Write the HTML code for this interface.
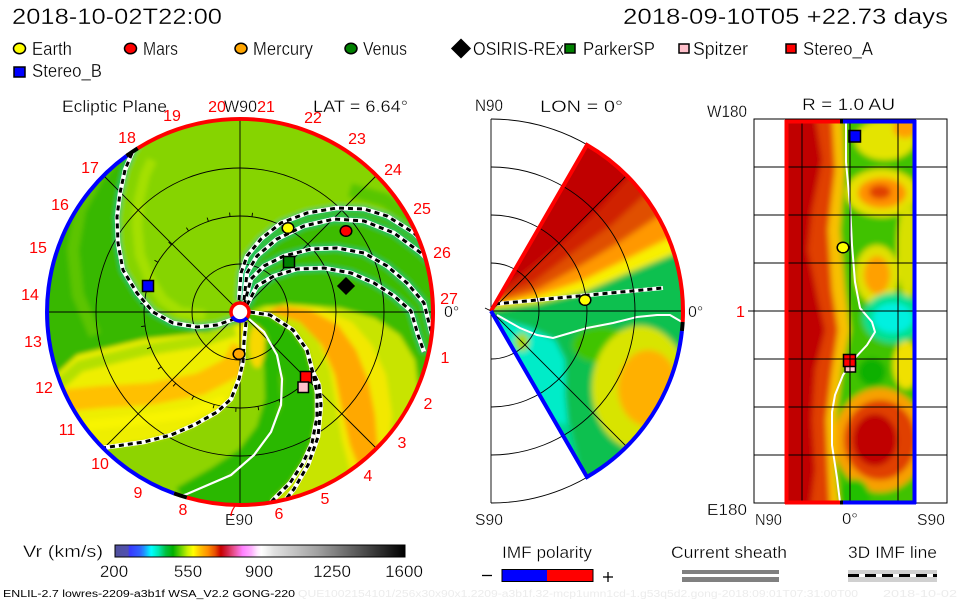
<!DOCTYPE html>
<html><head><meta charset="utf-8">
<style>
html,body{margin:0;padding:0;background:#fff;}
svg{display:block;}
text{font-family:"Liberation Sans",sans-serif;stroke:#fff;stroke-width:0.3px;}
text.r{stroke:none;}
</style></head>
<body>
<svg width="960" height="600" viewBox="0 0 960 600" xmlns="http://www.w3.org/2000/svg">
<defs>
  <clipPath id="cL"><circle cx="240" cy="312" r="193"/></clipPath>
  <clipPath id="cM"><path d="M491,311 L587,145 A192,192 0 0 1 587,477 Z"/></clipPath>
  <clipPath id="cR"><rect x="785" y="120" width="131" height="384"/></clipPath>
  <filter id="bl" x="-5%" y="-5%" width="110%" height="110%"><feGaussianBlur stdDeviation="2.5"/></filter>
  <filter id="bl3" x="-5%" y="-5%" width="110%" height="110%"><feGaussianBlur stdDeviation="3"/></filter>
  <linearGradient id="cb" x1="0" y1="0" x2="1" y2="0">
    <stop offset="0" stop-color="#50509c"/>
    <stop offset="0.045" stop-color="#5050b0"/>
    <stop offset="0.05" stop-color="#3838ff"/>
    <stop offset="0.085" stop-color="#3060ff"/>
    <stop offset="0.1" stop-color="#2090ff"/>
    <stop offset="0.125" stop-color="#00ffff"/>
    <stop offset="0.15" stop-color="#00e8b0"/>
    <stop offset="0.175" stop-color="#00c040"/>
    <stop offset="0.2" stop-color="#00b000"/>
    <stop offset="0.225" stop-color="#60d000"/>
    <stop offset="0.25" stop-color="#c8f000"/>
    <stop offset="0.27" stop-color="#ffff00"/>
    <stop offset="0.295" stop-color="#ffc000"/>
    <stop offset="0.32" stop-color="#ff9000"/>
    <stop offset="0.345" stop-color="#e85000"/>
    <stop offset="0.365" stop-color="#c80000"/>
    <stop offset="0.385" stop-color="#d02040"/>
    <stop offset="0.41" stop-color="#e85090"/>
    <stop offset="0.44" stop-color="#ff80ff"/>
    <stop offset="0.47" stop-color="#ffb0ff"/>
    <stop offset="0.49" stop-color="#ffe8ff"/>
    <stop offset="0.505" stop-color="#ffffff"/>
    <stop offset="0.55" stop-color="#e0e0e0"/>
    <stop offset="0.7" stop-color="#a0a0a0"/>
    <stop offset="0.85" stop-color="#505050"/>
    <stop offset="1" stop-color="#000000"/>
  </linearGradient>
</defs>

<!-- ===== Header ===== -->
<text x="12" y="24" font-size="22" textLength="210" lengthAdjust="spacingAndGlyphs">2018-10-02T22:00</text>
<text x="623" y="24" font-size="22" textLength="325" lengthAdjust="spacingAndGlyphs">2018-09-10T05 +22.73 days</text>

<!-- ===== Legend ===== -->
<g stroke="#000" stroke-width="1.5">
  <ellipse cx="19.5" cy="48.5" rx="6" ry="5.3" fill="#ffff00"/>
  <ellipse cx="130.5" cy="48.5" rx="6" ry="5.3" fill="#ff0000"/>
  <ellipse cx="241" cy="48.5" rx="6" ry="5.3" fill="#ffa500"/>
  <ellipse cx="351" cy="48.5" rx="6" ry="5.3" fill="#008000"/>
  <path d="M461,39.5 L470,48.5 L461,57.5 L452,48.5 Z" fill="#000"/>
  <rect x="565" y="44" width="10" height="9" fill="#008000"/>
  <rect x="679" y="44" width="10" height="9" fill="#ffc0cb"/>
  <rect x="786" y="44" width="10" height="9" fill="#ff0000"/>
  <rect x="14" y="67" width="11" height="10" fill="#0000ff"/>
</g>
<g font-size="18">
  <text x="32" y="55" textLength="40" lengthAdjust="spacingAndGlyphs">Earth</text>
  <text x="143" y="55" textLength="35" lengthAdjust="spacingAndGlyphs">Mars</text>
  <text x="253" y="55" textLength="60" lengthAdjust="spacingAndGlyphs">Mercury</text>
  <text x="363" y="55" textLength="44" lengthAdjust="spacingAndGlyphs">Venus</text>
  <text x="473" y="55" textLength="91" lengthAdjust="spacingAndGlyphs">OSIRIS-REx</text>
  <text x="583" y="55" textLength="72" lengthAdjust="spacingAndGlyphs">ParkerSP</text>
  <text x="693" y="55" textLength="55" lengthAdjust="spacingAndGlyphs">Spitzer</text>
  <text x="803" y="55" textLength="70" lengthAdjust="spacingAndGlyphs">Stereo_A</text>
  <text x="32" y="77" textLength="70" lengthAdjust="spacingAndGlyphs">Stereo_B</text>
</g>

<!-- ===== Panel titles ===== -->
<g font-size="17">
  <text x="62" y="112" textLength="105" lengthAdjust="spacingAndGlyphs">Ecliptic Plane</text>
  <text x="224" y="112" textLength="33" lengthAdjust="spacingAndGlyphs">W90</text>
  <text x="313" y="112" textLength="95" lengthAdjust="spacingAndGlyphs">LAT = 6.64°</text>
  <text x="475" y="111" textLength="28" lengthAdjust="spacingAndGlyphs">N90</text>
  <text x="540" y="112" textLength="83" lengthAdjust="spacingAndGlyphs">LON = 0°</text>
  <text x="802" y="110" textLength="93" lengthAdjust="spacingAndGlyphs">R = 1.0 AU</text>
  <text x="707" y="117" textLength="40" lengthAdjust="spacingAndGlyphs">W180</text>
</g>

<!-- ===== LEFT: Ecliptic plane ===== -->
<g clip-path="url(#cL)">
 <g filter="url(#bl)">
  <rect x="30" y="100" width="420" height="430" fill="#3cbc00"/>
  <polygon fill="#86d400" points="240,312 237,318 217,325 197,327 173,323 153,312 137,293 123,270 118,243 117,217 120,193 125,170 132,153 137,146 120,100 300,95 450,150 450,245 425,245 414,233 387,216 364,209 337,208 307,213 281,223 261,239 247,256 241,273 239,296"/>
  <polyline fill="none" stroke="#a4e000" stroke-width="10" points="205,315 180,312 163,300 150,280 140,255 137,225 139,200 145,175 152,160"/>
  <polyline fill="none" stroke="#62c800" stroke-width="12" points="300,120 340,135 380,160 410,190"/>
  <polyline fill="none" stroke="#58c600" stroke-width="14" points="350,190 385,200 415,222 440,240"/>
  <polygon fill="#38b800" points="237,318 217,325 197,327 173,323 153,312 137,293 123,270 118,243 117,217 120,193 125,170 132,153 137,146 120,100 20,150 20,420 51,379 77,355 144,339 211,332"/>
  <polyline fill="none" stroke="#5cc400" stroke-width="12" points="95,335 78,295 73,250 80,210 97,178 115,158"/>
  <polygon fill="#eeee00" points="246,322 211,332 144,339 77,355 51,379 20,420 20,480 107,447 144,442 171,435 194,425 217,412 231,399 239,379 243,362 244,342"/>
  <polyline fill="none" stroke="#b4e000" stroke-width="12" points="235,330 200,341 144,350 80,366 50,392"/>
  <polyline fill="none" stroke="#ffc000" stroke-width="22" points="242,348 231,368 200,384 150,394 100,397 50,402"/>
  <polyline fill="none" stroke="#f8f400" stroke-width="10" points="225,400 190,413 140,420 90,425 55,432"/>
  <polygon fill="#8ed400" points="246,322 244,342 243,362 239,379 231,399 217,412 194,425 171,435 144,442 107,447 90,470 150,530 187,494 231,475 254,455 271,432 281,405 282,379 277,355 264,332 249,319"/>
  <polyline fill="none" stroke="#2cb800" stroke-width="16" points="264,342 272,366 273,400 264,430 245,455 215,475 180,495"/>
  <ellipse cx="257" cy="346" rx="8" ry="22" fill="#f8d800"/>
  <polygon fill="#2cb800" points="249,319 264,332 277,355 282,379 281,405 271,432 254,455 231,475 187,494 200,530 290,520 273,500 290,483 303,463 312,443 317,417 317,393 313,373 307,350 293,330 270,315 250,312"/>
  <polygon fill="#c8e400" points="250,312 270,315 293,330 307,350 313,373 317,393 317,417 312,443 303,463 290,483 273,500 280,520 350,520 390,482 412,440 420,400 415,360 400,335 375,318 340,308 300,305 265,306"/>
  <polygon fill="#f2e800" points="262,310 296,318 318,340 330,370 336,405 342,440 350,470 366,480 388,455 392,415 386,375 372,345 352,322 320,308 285,304"/>
  <polygon fill="#ffa800" points="268,311 300,322 322,345 335,375 342,410 350,445 360,470 378,452 375,415 368,380 356,350 338,325 310,310 280,306"/>
  <g fill="none" stroke="#00c878" stroke-width="5">
   <polyline points="240,312 237,318 217,325 197,327 173,323 153,312 137,293 123,270 118,243 117,217 120,193 125,170 132,153 139,142"/>
   <polyline points="239,300 241,273 247,256 261,239 281,223 307,213 337,208 364,209 387,216 414,233 432,252"/>
   <polyline points="244,300 247,273 257,256 277,239 304,226 334,219 364,221 394,233 421,253 430,262"/>
   <polyline points="244,305 251,279 264,266 284,256 311,249 337,248 364,253 387,266 407,283 424,303 432,335"/>
   <polyline points="247,305 257,286 274,276 297,269 324,268 351,273 374,283 394,296 411,311 418,335 424,352"/>
  </g>
 </g>
 <g fill="none" stroke="#000" stroke-width="0.9">
  <circle cx="240" cy="312" r="48"/>
  <circle cx="240" cy="312" r="96"/>
  <circle cx="240" cy="312" r="144"/>
  <line x1="40" y1="312" x2="440" y2="312"/>
  <line x1="240" y1="110" x2="240" y2="510"/>
  <line x1="103.5" y1="175.5" x2="376.5" y2="448.5"/>
  <line x1="103.5" y1="448.5" x2="376.5" y2="175.5"/>
  <path d="M314,373.2 L317.1,375.7 M298,388.5 L300.5,391.7 M279,399.7 L280.7,403.4 M258,406.3 L258.7,410.2 M236,407.9 L235.8,411.9 M214.2,404.5 L213.1,408.3 M193.7,396.1 L191.8,399.6 M175.8,383.3 L173.1,386.3 M161.2,366.8 L157.9,369.1 M150.7,347.3 L147,348.8 M145,326 L141.1,326.6 M144.3,304 L140.4,303.6 M148.7,282.3 L144.9,281.1 M157.9,262.3 L154.5,260.2 M171.4,244.8 L168.6,242 M188.6,231 L186.4,227.6 M208.4,221.3 L207.1,217.6 M230,216.5 L229.6,212.6 M252,216.8 L252.5,212.8"/>
 </g>
 <polyline fill="none" stroke="#fff" stroke-width="2.2" points="249,319 264,332 277,355 282,379 281,405 271,432 254,455 231,475 187,494 172,499"/>
 <g fill="none" stroke="#fff" stroke-width="4.5" stroke-linejoin="round">
  <polyline points="240,312 237,318 217,325 197,327 173,323 153,312 137,293 123,270 118,243 117,217 120,193 125,170 132,153 139,142"/>
  <polyline points="246,322 244,342 243,362 239,379 231,399 217,412 194,425 171,435 144,442 102,448"/>
  <polyline points="250,312 270,315 293,330 307,350 313,373 317,393 317,417 312,443 303,463 290,483 273,500 266,508"/>
  <polyline points="311,368 319,385 321,405 318,437 308,465 294,489 279,508"/>
  <polyline points="239,300 241,273 247,256 261,239 281,223 307,213 337,208 364,209 387,216 414,233 432,252"/>
  <polyline points="244,300 247,273 257,256 277,239 304,226 334,219 364,221 394,233 421,253 430,262"/>
  <polyline points="244,305 251,279 264,266 284,256 311,249 337,248 364,253 387,266 407,283 424,303 432,335"/>
  <polyline points="247,305 257,286 274,276 297,269 324,268 351,273 374,283 394,296 411,311 418,335 424,352"/>
 </g>
 <g fill="none" stroke="#000" stroke-width="3" stroke-dasharray="5 4">
  <polyline points="240,312 237,318 217,325 197,327 173,323 153,312 137,293 123,270 118,243 117,217 120,193 125,170 132,153 139,142"/>
  <polyline points="246,322 244,342 243,362 239,379 231,399 217,412 194,425 171,435 144,442 102,448"/>
  <polyline points="250,312 270,315 293,330 307,350 313,373 317,393 317,417 312,443 303,463 290,483 273,500 266,508"/>
  <polyline points="311,368 319,385 321,405 318,437 308,465 294,489 279,508"/>
  <polyline points="239,300 241,273 247,256 261,239 281,223 307,213 337,208 364,209 387,216 414,233 432,252"/>
  <polyline points="244,300 247,273 257,256 277,239 304,226 334,219 364,221 394,233 421,253 430,262"/>
  <polyline points="244,305 251,279 264,266 284,256 311,249 337,248 364,253 387,266 407,283 424,303 432,335"/>
  <polyline points="247,305 257,286 274,276 297,269 324,268 351,273 374,283 394,296 411,311 418,335 424,352"/>
 </g>
</g>
<g fill="none" stroke-width="4">
  <path d="M137.7,148.3 A193,193 0 1 1 186.8,497.5" stroke="#ff0000"/>
  <path d="M186.8,497.5 A193,193 0 0 1 174,493.4" stroke="#000"/>
  <path d="M174,493.4 A193,193 0 0 1 126.6,155.9" stroke="#0000ff"/>
  <path d="M126.6,155.9 A193,193 0 0 1 137.7,148.3" stroke="#000"/>
</g>
<circle cx="240" cy="312" r="9" fill="#fff" stroke="#ff0000" stroke-width="3.5"/>
<path d="M246.9,317.8 A9,9 0 0 1 232.2,316.5" fill="none" stroke="#0000ff" stroke-width="3.5"/>
<g stroke="#000" stroke-width="1.5">
  <ellipse cx="288" cy="228" rx="5.8" ry="5.3" fill="#ffff00"/>
  <ellipse cx="346" cy="231" rx="5.8" ry="5.3" fill="#ff0000"/>
  <ellipse cx="239" cy="354" rx="5.8" ry="5.3" fill="#ffa500"/>
  <rect x="283.5" y="256.5" width="11" height="11" fill="#008000"/>
  <path d="M346,278 L354,286 L346,294 L338,286 Z" fill="#000"/>
  <rect x="142.5" y="280.5" width="11" height="11" fill="#0000ff"/>
  <rect x="300.5" y="371.5" width="11" height="11" fill="#ff0000"/>
  <rect x="298" y="382" width="10.5" height="10.5" fill="#ffc0cb"/>
</g>
<g font-size="16" fill="#ff0000" text-anchor="middle">
  <text class="r" x="217" y="112">20</text>
  <text class="r" x="266" y="112">21</text>
  <text class="r" x="172" y="121">19</text>
  <text class="r" x="127" y="143">18</text>
  <text class="r" x="90" y="173">17</text>
  <text class="r" x="60" y="210">16</text>
  <text class="r" x="38" y="253">15</text>
  <text class="r" x="30" y="300">14</text>
  <text class="r" x="33" y="347">13</text>
  <text class="r" x="44" y="393">12</text>
  <text class="r" x="67" y="435">11</text>
  <text class="r" x="100" y="469">10</text>
  <text class="r" x="138" y="498">9</text>
  <text class="r" x="183" y="515">8</text>
  <text class="r" x="279" y="519">6</text>
  <text class="r" x="325" y="504">5</text>
  <text class="r" x="368" y="481">4</text>
  <text class="r" x="402" y="448">3</text>
  <text class="r" x="428" y="409">2</text>
  <text class="r" x="445" y="363">1</text>
  <text class="r" x="449" y="304">27</text>
  <text class="r" x="442" y="258">26</text>
  <text class="r" x="422" y="214">25</text>
  <text class="r" x="393" y="175">24</text>
  <text class="r" x="357" y="144">23</text>
  <text class="r" x="313" y="123">22</text>
</g>
<text x="225" y="525" font-size="16" textLength="28" lengthAdjust="spacingAndGlyphs">E90</text>
<text class="r" x="232" y="516" font-size="16" fill="#ff0000" text-anchor="middle">7</text>
<text x="444" y="317" font-size="16">0°</text>

<!-- ===== MIDDLE: meridional wedge ===== -->
<g clip-path="url(#cM)">
 <g filter="url(#bl3)">
  <rect x="480" y="130" width="220" height="360" fill="#10c050"/>
  <polygon fill="#00ecc8" points="495,318 530,328 555,340 565,360 565,395 568,425 552,428 532,400 512,365 495,330"/>
  <polygon fill="#00d890" points="540,420 570,425 580,470 560,478 545,450"/>
  <ellipse cx="522" cy="342" rx="7" ry="9" fill="#a8d800"/>
  <ellipse cx="602" cy="345" rx="30" ry="18" fill="#40c400"/>
  <ellipse cx="640" cy="388" rx="48" ry="62" fill="#d8e400"/>
  <ellipse cx="648" cy="388" rx="30" ry="38" fill="#ffb000"/>
  <polygon fill="#f8f000" points="480,311 491,309 538,303 586,291 630,272 690,247 700,100 480,100"/>
  <polygon fill="#ff9800" points="480,311 491,306 538,296 584,280 627,259 675,235 700,225 700,100 480,100"/>
  <polygon fill="#e05000" points="480,311 491,303 537,290 580,266 620,242 660,215 700,195 700,100 480,100"/>
  <polygon fill="#d02000" points="480,311 491,300 534,282 574,252 612,225 645,195 700,160 700,100 480,100"/>
  <polygon fill="#c00000" points="480,311 491,297 528,270 565,240 598,210 630,175 700,120 700,100 480,100"/>
 </g>
 <polyline fill="none" stroke="#fff" stroke-width="2" points="497,315 520,328 537,335 553,338 570,333 587,328 613,323 637,317 657,315 670,315 682,322"/>
 <line x1="495" y1="304" x2="663" y2="288" stroke="#fff" stroke-width="4"/>
 <line x1="495" y1="304" x2="663" y2="288" stroke="#000" stroke-width="3" stroke-dasharray="5 4"/>
 <g stroke="#000" stroke-width="0.9" fill="none">
  <line x1="491" y1="311" x2="626.8" y2="175.2"/>
  <line x1="491" y1="311" x2="626.8" y2="446.8"/>
  <line x1="491" y1="311" x2="683" y2="311"/>
 </g>
</g>
<g stroke="#000" stroke-width="0.9" fill="none">
  <line x1="491" y1="119" x2="491" y2="503"/>
  <path d="M491,119 A192,192 0 0 1 491,503"/>
  <path d="M491,167 A144,144 0 0 1 491,455"/>
  <path d="M491,215 A96,96 0 0 1 491,407"/>
  <path d="M491,263 A48,48 0 0 1 491,359"/>
  <line x1="485" y1="308" x2="491" y2="311"/>
</g>
<g fill="none" stroke-width="4">
  <path d="M491,311 L587,145 A192,192 0 0 1 682.7,322" stroke="#ff0000"/>
  <path d="M682.7,322 A192,192 0 0 1 681.9,331" stroke="#000"/>
  <path d="M681.9,331 A192,192 0 0 1 587,477 L491,311" stroke="#0000ff"/>
</g>
<ellipse cx="585" cy="300" rx="5.8" ry="5.3" fill="#ffff00" stroke="#000" stroke-width="1.5"/>
<text x="688" y="317" font-size="16">0°</text>
<text x="475" y="525" font-size="16" textLength="28" lengthAdjust="spacingAndGlyphs">S90</text>

<!-- ===== RIGHT: R = 1 AU map ===== -->
<g clip-path="url(#cR)">
 <g filter="url(#bl3)">
  <rect x="780" y="115" width="140" height="395" fill="#40c200"/>
  <ellipse cx="885" cy="140" rx="30" ry="20" fill="#e4e400"/>
  <ellipse cx="905" cy="128" rx="12" ry="10" fill="#ffa000"/>
  <ellipse cx="882" cy="193" rx="36" ry="24" fill="#e8e000"/>
  <ellipse cx="882" cy="193" rx="24" ry="15" fill="#ff9000"/>
  <ellipse cx="880" cy="192" rx="11" ry="7" fill="#e04000"/>
  <ellipse cx="908" cy="250" rx="11" ry="48" fill="#d8e000"/>
  <ellipse cx="877" cy="275" rx="22" ry="30" fill="#e0e000"/>
  <ellipse cx="877" cy="275" rx="13" ry="19" fill="#ffa000"/>
  <ellipse cx="893" cy="318" rx="30" ry="25" fill="#00e090"/>
  <ellipse cx="893" cy="318" rx="20" ry="15" fill="#00f0e0"/>
  <ellipse cx="906" cy="365" rx="13" ry="24" fill="#f0e000"/>
  <ellipse cx="880" cy="440" rx="46" ry="52" fill="#f8a000"/>
  <ellipse cx="880" cy="440" rx="36" ry="40" fill="#e04000"/>
  <ellipse cx="875" cy="440" rx="22" ry="26" fill="#c00000"/>
  <ellipse cx="872" cy="372" rx="14" ry="14" fill="#10b000"/>
  <ellipse cx="855" cy="497" rx="15" ry="18" fill="#20c000"/>
  <polygon fill="#f8c000" points="780,115 842,115 845,170 840,230 845,290 850,330 842,370 836,420 836,470 840,510 780,510"/>
  <polygon fill="#e04000" points="780,115 832,115 835,170 828,230 832,290 838,330 832,370 826,420 828,470 830,510 780,510"/>
  <polygon fill="#c00000" points="780,115 815,115 822,160 812,210 808,250 818,300 825,330 815,370 812,420 815,470 810,510 780,510"/>
 </g>
 <polyline fill="none" stroke="#fff" stroke-width="2" points="846,122 846,162 850,205 852,245 855,282 860,308 872,322 875,332 867,345 855,358 843,375 835,395 832,412 832,445 837,478 840,502"/>
</g>
<g stroke="#000" stroke-width="1.5">
  <rect x="849" y="130.5" width="11.5" height="11.5" fill="#0000ff"/>
  <ellipse cx="843" cy="247.5" rx="5.8" ry="5.3" fill="#ffff00"/>
  <rect x="845" y="362" width="10.5" height="10" fill="#ffc0cb"/>
  <rect x="843.5" y="354.5" width="12" height="12" fill="#ff0000"/>
</g>
<g stroke="#000" stroke-width="1" fill="none">
  <rect x="754" y="119" width="193" height="384"/>
  <line x1="754" y1="167" x2="947" y2="167"/>
  <line x1="754" y1="215" x2="947" y2="215"/>
  <line x1="754" y1="263" x2="947" y2="263"/>
  <line x1="748" y1="311" x2="947" y2="311"/>
  <line x1="754" y1="359" x2="947" y2="359"/>
  <line x1="754" y1="407" x2="947" y2="407"/>
  <line x1="754" y1="455" x2="947" y2="455"/>
  <line x1="802" y1="119" x2="802" y2="503"/>
  <line x1="850" y1="119" x2="850" y2="503"/>
  <line x1="898" y1="119" x2="898" y2="503"/>
</g>
<g stroke-width="4" fill="none">
  <line x1="786.5" y1="120" x2="786.5" y2="504" stroke="#ff0000"/>
  <line x1="914.5" y1="120" x2="914.5" y2="504" stroke="#0000ff"/>
  <line x1="785" y1="121.5" x2="840" y2="121.5" stroke="#ff0000"/>
  <line x1="840" y1="121.5" x2="843" y2="121.5" stroke="#000"/>
  <line x1="843" y1="121.5" x2="916" y2="121.5" stroke="#0000ff"/>
  <line x1="785" y1="502.5" x2="840" y2="502.5" stroke="#ff0000"/>
  <line x1="840" y1="502.5" x2="843" y2="502.5" stroke="#000"/>
  <line x1="843" y1="502.5" x2="916" y2="502.5" stroke="#0000ff"/>
</g>
<text class="r" x="736" y="317" font-size="16" fill="#ff0000">1</text>
<g font-size="16">
  <text x="707" y="515" textLength="40" lengthAdjust="spacingAndGlyphs">E180</text>
  <text x="755" y="525" textLength="27" lengthAdjust="spacingAndGlyphs">N90</text>
  <text x="842" y="524" textLength="16" lengthAdjust="spacingAndGlyphs">0°</text>
  <text x="917" y="525" textLength="28" lengthAdjust="spacingAndGlyphs">S90</text>
</g>

<!-- ===== Colorbar ===== -->
<text x="23" y="557" font-size="17" textLength="80" lengthAdjust="spacingAndGlyphs">Vr (km/s)</text>
<rect x="115" y="545" width="290" height="12" fill="url(#cb)" stroke="#000" stroke-width="1"/>
<g font-size="17" text-anchor="middle">
  <text x="114" y="577">200</text>
  <text x="188" y="577">550</text>
  <text x="259" y="577">900</text>
  <text x="332" y="577">1250</text>
  <text x="404" y="577">1600</text>
</g>

<!-- ===== IMF polarity / sheath / IMF line legends ===== -->
<g font-size="17">
  <text x="502" y="558" textLength="90" lengthAdjust="spacingAndGlyphs">IMF polarity</text>
  <text x="671" y="558" textLength="116" lengthAdjust="spacingAndGlyphs">Current sheath</text>
  <text x="848" y="558" textLength="89" lengthAdjust="spacingAndGlyphs">3D IMF line</text>
</g>
<rect x="502" y="569.5" width="45" height="12" fill="#0000ff"/>
<rect x="547" y="569.5" width="46" height="12" fill="#ff0000"/>
<rect x="502" y="569.5" width="91" height="12" fill="none" stroke="#000" stroke-width="1"/>
<line x1="482" y1="575.5" x2="492" y2="575.5" stroke="#000" stroke-width="1.3"/>
<line x1="603" y1="577" x2="613" y2="577" stroke="#000" stroke-width="1.3"/>
<line x1="608" y1="572" x2="608" y2="582" stroke="#000" stroke-width="1.3"/>
<rect x="682" y="570" width="97" height="4" fill="#808080"/>
<rect x="682" y="577" width="97" height="5" fill="#808080"/>
<rect x="848" y="570" width="89" height="12" fill="#d0d0d0"/>
<line x1="848" y1="575.5" x2="937" y2="575.5" stroke="#fff" stroke-width="3"/>
<line x1="848" y1="575.5" x2="937" y2="575.5" stroke="#000" stroke-width="3" stroke-dasharray="11 6"/>

<!-- ===== Footer ===== -->
<text class="r" x="3" y="597" font-size="10" textLength="292" lengthAdjust="spacingAndGlyphs">ENLIL-2.7 lowres-2209-a3b1f WSA_V2.2 GONG-220</text>
<text class="r" x="298" y="597" font-size="10" fill="#ececec" textLength="560" lengthAdjust="spacingAndGlyphs">QUE1002154101/256x30x90x1.2209-a3b1f.32-mcp1umn1cd-1.g53q5d2.gong-2018:09:01T07:31:00T00</text>
<text class="r" x="883" y="597" font-size="10" fill="#ececec" textLength="74" lengthAdjust="spacingAndGlyphs">2018-10-02</text>
</svg>
</body></html>
